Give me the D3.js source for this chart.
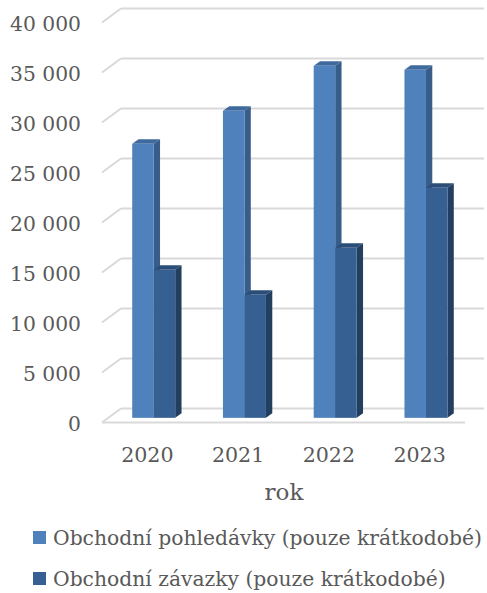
<!DOCTYPE html>
<html>
<head>
<meta charset="utf-8">
<script src="https://cdn.jsdelivr.net/npm/d3@7"></script>
<style>
  body { margin: 0; background: #fff; }
  text { font-family: "DejaVu Serif", serif; fill: #595959; }
</style>
</head>
<body>
<svg></svg>
<script>
let years = ["2020", "2021", "2022", "2023"];
let pohledavky = [27400, 30700, 35200, 34800];
let zavazky = [14800, 12300, 17000, 23000];
let yTicks = [0, 5000, 10000, 15000, 20000, 25000, 30000, 35000, 40000];
let seriesNames = ["Obchodní pohledávky (pouze krátkodobé)", "Obchodní závazky (pouze krátkodobé)"];

let width = 487;
let height = 593;
// 3d depth of the plot (floor front -> back wall)
let depthX = 19;
let depthY = -14;

const svg = d3.select("svg")
  .attr("width", width)
  .attr("height", height);

//scales
const xScale = d3.scaleBand()
  .domain(years)
  .range([102, 465]);
const yScale = d3.scaleLinear()
  .domain([0, 40000])
  .range([422.5, 22.5]);
const fmt = (d) => d3.format(",")(d).replace(",", " ");

//gridlines on back wall + left wall diagonals
const grid = svg.append("g").attr("id", "grid");
yTicks.forEach((t) => {
  let y = yScale(t);
  grid.append("line")
    .attr("x1", xScale.range()[0] + depthX).attr("x2", xScale.range()[1] + depthX)
    .attr("y1", y + depthY).attr("y2", y + depthY);
  grid.append("line")
    .attr("x1", xScale.range()[0]).attr("x2", xScale.range()[0] + depthX)
    .attr("y1", y).attr("y2", y + depthY);
});
//floor front edge
grid.append("line")
  .attr("x1", xScale.range()[0]).attr("x2", xScale.range()[1])
  .attr("y1", yScale(0)).attr("y2", yScale(0));
grid.selectAll("line")
  .attr("stroke", "#d9d9d9")
  .attr("stroke-width", 2);

//y labels
svg.append("g")
  .selectAll("text")
  .data(yTicks)
  .enter()
  .append("text")
  .attr("x", 81)
  .attr("y", (d) => yScale(d))
  .attr("dy", "0.4em")
  .attr("text-anchor", "end")
  .attr("font-size", 20.3)
  .text(fmt);

//x labels
svg.append("g")
  .selectAll("text")
  .data(years)
  .enter()
  .append("text")
  .attr("x", (d) => xScale(d) + xScale.bandwidth() / 2)
  .attr("y", 462)
  .attr("text-anchor", "middle")
  .attr("font-size", 20.6)
  .text((d) => d);

svg.append("text")
  .attr("x", 284)
  .attr("y", 500)
  .attr("text-anchor", "middle")
  .attr("font-size", 23)
  .text("rok");

//bars
const colors = [
  { front: "#4f81bd", top: "#3e6a9e", side: "#385d8a" },
  { front: "#376092", top: "#2b4e78", side: "#233f60" }
];
const barWidth = 21.5;
const inner = d3.scaleBand()
  .domain([0, 1])
  .range([-barWidth, barWidth]);
const f0 = 1 / 3, f1 = 2 / 3;

const bars = [];
years.forEach((yr, i) => {
  [pohledavky[i], zavazky[i]].forEach((v, s) => {
    bars.push({ year: yr, value: v, s: s });
  });
});

const barG = svg.append("g").attr("id", "bars")
  .selectAll("g")
  .data(bars)
  .enter()
  .append("g");

barG.each(function(d) {
  let g = d3.select(this);
  let xl = xScale(d.year) + xScale.bandwidth() / 2 + inner(d.s);
  let xr = xl + inner.bandwidth();
  let yt = yScale(d.value);
  let yb = yScale(0);
  let ax = depthX * f0, ay = depthY * f0;
  let bx = depthX * f1, by = depthY * f1;
  let c = colors[d.s];
  g.append("polygon")
    .attr("points", [[xl + ax, yt + ay], [xr + ax, yt + ay], [xr + bx, yt + by], [xl + bx, yt + by]].join(" "))
    .attr("fill", c.top);
  g.append("polygon")
    .attr("points", [[xr + ax, yt + ay], [xr + bx, yt + by], [xr + bx, yb + by], [xr + ax, yb + ay]].join(" "))
    .attr("fill", c.side);
  g.append("rect")
    .attr("x", xl + ax)
    .attr("y", yt + ay)
    .attr("width", xr - xl)
    .attr("height", yb - yt)
    .attr("fill", c.front);
});

//legend
const legend = svg.append("g")
  .selectAll("g")
  .data(seriesNames)
  .enter()
  .append("g")
  .attr("transform", (d, i) => `translate(0, ${538 + i * 41})`);
legend.append("rect")
  .attr("x", 33)
  .attr("y", -7)
  .attr("width", 13)
  .attr("height", 13)
  .attr("fill", (d, i) => colors[i].front);
legend.append("text")
  .attr("x", 53)
  .attr("y", 0)
  .attr("dy", "0.35em")
  .attr("font-size", 20.3)
  .text((d) => d);
</script>
</body>
</html>
